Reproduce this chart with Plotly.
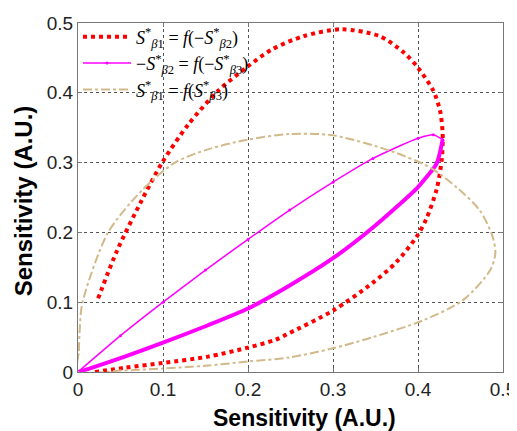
import plotly.graph_objects as go

# Series 1: S*_b1 = f(-S*_b2)  (red dotted loop)
red_x = [0.02, 0.055, 0.1, 0.153, 0.2, 0.232, 0.249, 0.3, 0.347, 0.375, 0.399, 0.41, 0.422, 0.428,
         0.429, 0.426, 0.418, 0.4, 0.383, 0.355, 0.31, 0.265, 0.228, 0.2, 0.165, 0.13, 0.099, 0.075,
         0.046, 0.022]
red_y = [0.0, 0.006, 0.013, 0.022, 0.035, 0.046, 0.056, 0.088, 0.128, 0.158, 0.195, 0.22, 0.262, 0.305,
         0.341, 0.374, 0.403, 0.436, 0.458, 0.481, 0.491, 0.481, 0.462, 0.438, 0.403, 0.355, 0.30, 0.246,
         0.174, 0.1]

# Series 2: -S*_b2 = f(-S*_b3)  (magenta loop; upper thin branch, lower thick branch)
mag_up_x = [0.0, 0.05, 0.1, 0.15, 0.2, 0.249, 0.3, 0.347, 0.4, 0.418, 0.429]
mag_up_y = [0.0, 0.052, 0.1, 0.146, 0.19, 0.232, 0.272, 0.306, 0.335, 0.34, 0.333]
mag_lo_x = [0.429, 0.422, 0.4, 0.347, 0.3, 0.249, 0.2, 0.153, 0.1, 0.055, 0.016, 0.0]
mag_lo_y = [0.333, 0.299, 0.265, 0.207, 0.163, 0.124, 0.091, 0.067, 0.042, 0.022, 0.006, 0.0]

# Series 3: S*_b1 = f(S*_b3)  (tan dash-dot loop)
tan_x = [0.0, 0.001, 0.002, 0.005, 0.035, 0.075, 0.114, 0.153, 0.2, 0.249, 0.3, 0.367, 0.414, 0.446,
         0.473, 0.488, 0.491, 0.485, 0.453, 0.406, 0.347, 0.3, 0.249, 0.2, 0.15, 0.1, 0.05, 0.0]
tan_y = [0.0, 0.03, 0.06, 0.098, 0.199, 0.26, 0.3, 0.319, 0.333, 0.341, 0.339, 0.317, 0.293, 0.264,
         0.231, 0.193, 0.17, 0.146, 0.103, 0.074, 0.05, 0.034, 0.021, 0.015, 0.009, 0.005, 0.002, 0.0]

tick_vals = [0, 0.1, 0.2, 0.3, 0.4, 0.5]
tick_text = ["0", "0.1", "0.2", "0.3", "0.4", "0.5"]
axis_title = "Sensitivity (A.U.)"

names = [
    "<i>S</i><sup>*</sup><sub><i>β</i>1</sub> = <i>f</i>(−<i>S</i><sup>*</sup><sub><i>β</i>2</sub>)",
    "−<i>S</i><sup>*</sup><sub><i>β</i>2</sub> = <i>f</i>(−<i>S</i><sup>*</sup><sub><i>β</i>3</sub>)",
    "<i>S</i><sup>*</sup><sub><i>β</i>1</sub> = <i>f</i>(<i>S</i><sup>*</sup><sub><i>β</i>3</sub>)",
]

fig = go.Figure()
fig.add_trace(go.Scatter(x=red_x, y=red_y, mode="lines", name=names[0],
                         line=dict(color="#ff0000", width=4, dash="dot", shape="spline", smoothing=0.8)))
fig.add_trace(go.Scatter(x=mag_up_x, y=mag_up_y, mode="lines+markers", name=names[1],
                         legendgroup="m",
                         line=dict(color="#ff00ff", width=1.5, shape="spline", smoothing=0.6),
                         marker=dict(size=3, color="#ff00ff")))
fig.add_trace(go.Scatter(x=mag_lo_x, y=mag_lo_y, mode="lines", showlegend=False, legendgroup="m",
                         line=dict(color="#ff00ff", width=4, shape="spline", smoothing=0.6)))
fig.add_trace(go.Scatter(x=tan_x, y=tan_y, mode="lines", name=names[2],
                         line=dict(color="#d2b98a", width=2, dash="dashdot", shape="spline", smoothing=0.8)))

axis_common = dict(
    range=[0, 0.5], tickvals=tick_vals, ticktext=tick_text,
    showgrid=True, gridcolor="#555555", griddash="dot", gridwidth=1,
    showline=True, linecolor="#777777", linewidth=1, mirror="ticks",
    ticks="inside", ticklen=4, tickcolor="#777777",
    zeroline=False, automargin=False,
    tickfont=dict(family="Arial, Liberation Sans", size=19, color="#222222"),
)

fig.update_xaxes(**axis_common)
fig.update_yaxes(**axis_common)

title_font = dict(family="Arial, Liberation Sans", size=23, color="#000000")
fig.add_annotation(text="<b>" + axis_title + "</b>", xref="paper", yref="paper",
                   x=0.534, y=0, xanchor="center", yanchor="middle", yshift=-46,
                   showarrow=False, font=title_font)
fig.add_annotation(text="<b>" + axis_title + "</b>", xref="paper", yref="paper",
                   x=0, y=0.489, xanchor="center", yanchor="middle", xshift=-55,
                   textangle=-90, showarrow=False, font=dict(title_font, size=24))

# page body adds an 8px offset; figure sized to fill the remaining window
fig.update_layout(
    width=509, height=423,
    margin=dict(l=70, r=14, t=14, b=59),
    plot_bgcolor="white", paper_bgcolor="white",
    showlegend=True,
    legend=dict(x=0.0, y=1.01, xanchor="left", yanchor="top",
                bgcolor="rgba(0,0,0,0)", borderwidth=0,
                font=dict(family="Liberation Serif, Times New Roman", size=18, color="#000000"),
                tracegroupgap=0, itemwidth=48),
)

fig.write_html("out.html")
